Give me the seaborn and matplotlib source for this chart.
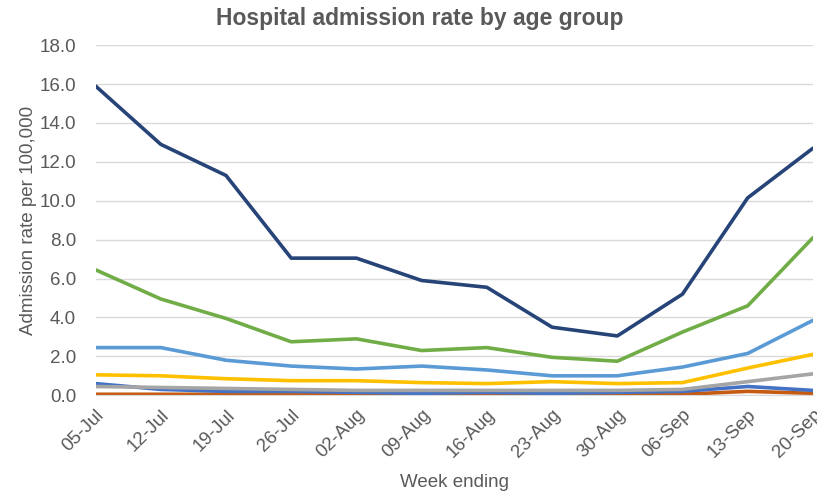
import pandas as pd
import matplotlib
matplotlib.use("Agg")
import matplotlib.pyplot as plt
import seaborn as sns

# week labels and admission rates per 100,000
weeks = ['05-Jul', '12-Jul', '19-Jul', '26-Jul', '02-Aug', '09-Aug',
         '16-Aug', '23-Aug', '30-Aug', '06-Sep', '13-Sep', '20-Sep']

age_80 = [15.9, 12.9, 11.3, 7.05, 7.05, 5.9, 5.55, 3.5, 3.05, 5.2, 10.15, 12.7]
age_65 = [6.45, 4.95, 3.95, 2.75, 2.9, 2.3, 2.45, 1.95, 1.75, 3.25, 4.6, 8.1]
age_45 = [2.45, 2.45, 1.8, 1.5, 1.35, 1.5, 1.3, 1.0, 1.0, 1.45, 2.15, 3.85]
age_25 = [1.05, 1.0, 0.85, 0.75, 0.75, 0.65, 0.6, 0.7, 0.6, 0.65, 1.4, 2.1]
age_15 = [0.45, 0.4, 0.35, 0.3, 0.25, 0.25, 0.25, 0.25, 0.25, 0.3, 0.7, 1.1]
age_00 = [0.6, 0.3, 0.2, 0.2, 0.15, 0.1, 0.15, 0.1, 0.15, 0.2, 0.45, 0.25]
age_05 = [0.05, 0.05, 0.05, 0.05, 0.05, 0.05, 0.1, 0.05, 0.05, 0.05, 0.2, 0.1]

series = {
    '5-14': age_05,
    '0-4': age_00,
    '15-24': age_15,
    '25-44': age_25,
    '45-64': age_45,
    '65-79': age_65,
    '80+': age_80,
}
colors = {
    '5-14': '#C55A11',
    '0-4': '#4472C4',
    '15-24': '#A5A5A5',
    '25-44': '#FFC000',
    '45-64': '#5B9BD5',
    '65-79': '#70AD47',
    '80+': '#264478',
}

rows = []
for name, vals in series.items():
    for w, v in zip(weeks, vals):
        rows.append({'Week': w, 'Rate': v, 'Age': name})
df = pd.DataFrame(rows)

sns.set_style("white")
plt.rcParams['font.family'] = ['Liberation Sans', 'DejaVu Sans']

fig = plt.figure(figsize=(8.17, 4.91), dpi=100)
ax = fig.add_axes([0.117, 0.195, 0.878, 0.713])

sns.lineplot(data=df, x='Week', y='Rate', hue='Age', hue_order=list(series.keys()),
             palette=colors, linewidth=2.6, legend=False, ax=ax)

ax.set_xlim(0, len(weeks) - 1)
ax.set_ylim(0, 18)
ax.set_yticks(range(0, 19, 2))
ax.set_yticklabels([f"{v:.1f}" for v in range(0, 19, 2)])
ax.yaxis.grid(True, color='#D9D9D9', linewidth=1)
ax.set_axisbelow(True)
for s in ['top', 'right', 'left']:
    ax.spines[s].set_visible(False)
ax.spines['bottom'].set_color('#D9D9D9')

ax.tick_params(axis='both', colors='#595959', labelsize=13.5, length=0)
ax.tick_params(axis='y', pad=14)
ax.tick_params(axis='x', pad=8)
plt.setp(ax.get_xticklabels(), rotation=45, ha='right', rotation_mode='anchor')

ax.set_xlabel('Week ending', color='#595959', fontsize=13.5, labelpad=9)
ax.set_ylabel('Admission rate per 100,000', color='#595959', fontsize=13.5, labelpad=2)
fig.text(0.514, 0.963, 'Hospital admission rate by age group', color='#595959',
         fontsize=16.5, fontweight='bold', ha='center', va='center')

fig.savefig('out.png', dpi=100)
